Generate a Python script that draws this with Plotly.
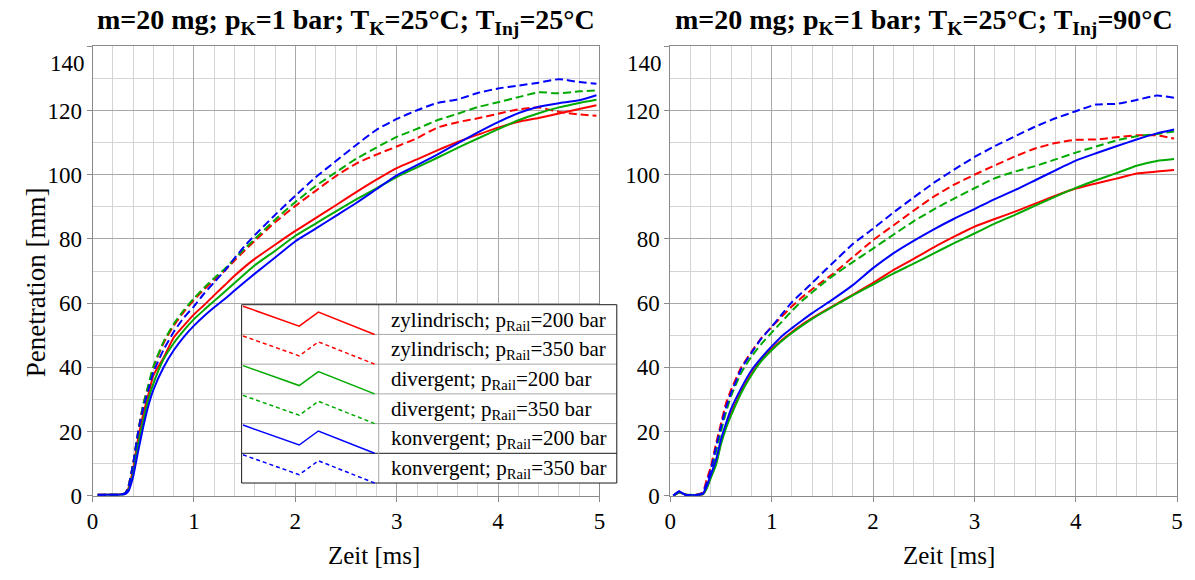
import plotly.graph_objects as go

W, H = 1195, 580

# ---------------- data: spray penetration [mm] over time [ms] ----------------
T_LEFT = [0.05, 0.15, 0.25, 0.32, 0.35, 0.40, 0.45, 0.50, 0.55, 0.60,
          0.70, 0.80, 0.90, 1.00, 1.10, 1.20, 1.30, 1.40, 1.50, 1.60,
          1.80, 2.00, 2.20, 2.40, 2.60, 2.80, 3.00, 3.20, 3.40, 3.60,
          3.80, 4.00, 4.20, 4.40, 4.60, 4.80, 4.97]

ZYL_200_L = [0.3, 0.3, 0.3, 0.6, 2.0, 8.5, 18, 25.5, 31.5, 37.5,
             43, 49.3, 53, 56.5, 59.4, 62.5, 65.5, 68.5, 71.3, 73.8,
             78.2, 82.5, 86.5, 90.5, 94.6, 98.5, 102.1, 104.8, 107.6, 110.2,
             112.5, 114.7, 116.5, 117.7, 119.1, 120.5, 121.7]
ZYL_350_L = [0.3, 0.3, 0.3, 0.7, 2.5, 10, 20, 28.5, 34, 40,
             47.5, 53, 57.3, 61, 64.3, 67.2, 70, 73.3, 76.4, 79.4,
             85.2, 90.3, 95.0, 99.6, 103.5, 106.3, 108.8, 111.4, 114.7, 116.4,
             117.6, 119.0, 120.4, 121.0, 119.6, 118.8, 118.4]
DIV_200_L = [0.2, 0.3, 0.3, 0.5, 1.5, 7, 16, 23.5, 30, 35,
             42.5, 47.5, 51.5, 55, 57.9, 60.7, 63.5, 66.3, 69.1, 71.8,
             76.3, 81.0, 84.8, 88.6, 92.3, 95.8, 99.3, 102.3, 105.3, 108.4,
             111.3, 114.2, 117.0, 119.2, 121.0, 122.4, 123.4]
DIV_350_L = [0.3, 0.3, 0.3, 0.7, 2.5, 10, 20, 28.5, 34.5, 40.3,
             48, 53.5, 57.8, 61.5, 64.8, 67.8, 70.6, 73.8, 77.0, 80.0,
             86.0, 91.5, 96.5, 100.8, 105.0, 108.5, 111.8, 114.3, 117.0, 119.0,
             121.1, 122.6, 124.2, 125.7, 125.4, 126.0, 126.3]
KON_200_L = [0.2, 0.3, 0.3, 0.5, 1.2, 6, 14, 21.5, 28, 33,
             40, 45.3, 49.5, 53, 56, 58.7, 61.2, 63.9, 66.6, 69.2,
             74.2, 79.3, 83.2, 87.2, 91.2, 95.5, 99.8, 103.0, 106.3, 109.8,
             113.2, 116.4, 119.2, 121.2, 122.3, 123.2, 124.8]
KON_350_L = [0.3, 0.3, 0.3, 0.7, 2.3, 10, 20, 27.5, 33, 38.5,
             45.5, 51, 55.5, 59, 63, 66.5, 70, 74, 77.8, 81.2,
             87.5, 93.5, 99.2, 104.3, 109.3, 114.0, 117.4, 120.1, 122.4, 123.5,
             125.5, 126.9, 127.8, 128.7, 129.8, 128.9, 128.4]

T_RIGHT = [0.03, 0.09, 0.15, 0.25, 0.32, 0.36, 0.40, 0.45, 0.50, 0.55,
           0.60, 0.70, 0.80, 0.90, 1.00, 1.10, 1.20, 1.30, 1.40, 1.50,
           1.60, 1.80, 2.00, 2.20, 2.40, 2.60, 2.80, 3.00, 3.20, 3.40,
           3.60, 3.80, 4.00, 4.20, 4.40, 4.60, 4.80, 4.97]

ZYL_200_R = [0, 1.0, 0.3, 0.2, 0.4, 2.5, 6, 10, 16.5, 21.5,
             25.5, 32.5, 38, 42.5, 45.7, 48.5, 51, 53.3, 55.3, 57.2,
             59.0, 62.6, 66.3, 70.3, 73.8, 77.4, 80.7, 83.8, 86.2, 88.5,
             91.0, 93.5, 95.7, 97.3, 98.8, 100.4, 101.0, 101.5]
ZYL_350_R = [0, 1.2, 0.3, 0.3, 1, 5, 9, 16, 22.5, 28.8,
             33, 40, 44.8, 49.2, 52.6, 55.8, 59.0, 61.8, 64.3, 66.7,
             69.0, 74.3, 79.6, 84.2, 88.8, 93.2, 96.9, 100.0, 102.9, 105.7,
             108.2, 109.9, 110.9, 111.0, 111.7, 112.3, 112.3, 111.3]
DIV_200_R = [0, 1.0, 0.3, 0.2, 0.4, 2.2, 5.5, 9.5, 16, 21,
             25, 32, 37.5, 42, 45.3, 48.2, 50.7, 53, 55.1, 57,
             58.8, 62.4, 65.8, 69.2, 72.3, 75.5, 78.7, 81.7, 84.8, 87.5,
             90.4, 93.2, 95.9, 98.3, 100.5, 102.8, 104.3, 104.9]
DIV_350_R = [0, 1.1, 0.3, 0.3, 0.6, 3.5, 7, 13.5, 20, 26,
             31, 38.3, 43.3, 47.3, 50.8, 54.2, 57.6, 60.7, 63.4, 66.0,
             68.4, 72.8, 77.0, 81.3, 85.5, 89.2, 92.6, 95.8, 98.9, 101.0,
             102.7, 104.8, 106.9, 108.8, 110.7, 112.0, 112.7, 113.5]
KON_200_R = [0, 1.3, 0.2, 0.2, 0.5, 3, 6.5, 11, 17.5, 22.5,
             27, 33.5, 39, 43, 46.5, 49.7, 52.2, 54.6, 56.9, 59.0,
             61.1, 65.6, 70.9, 75.5, 79.4, 83.0, 86.3, 89.3, 92.4, 95.2,
             98.3, 101.4, 104.4, 106.7, 108.9, 111.0, 112.9, 114.1]
KON_350_R = [0, 1.4, 0.3, 0.2, 0.8, 4, 8, 15, 21.5, 27.5,
             32, 39.5, 44.5, 49, 52.6, 56.5, 60.3, 63.3, 66.3, 69.4,
             72.4, 78.4, 83.2, 88.2, 92.9, 97.5, 101.6, 105.5, 108.9, 112.0,
             115.0, 117.6, 119.8, 121.9, 122.1, 123.3, 124.7, 124.0]

LEGEND_TEXT = ["zylindrisch; p<sub>Rail</sub>=200 bar",
               "zylindrisch; p<sub>Rail</sub>=350 bar",
               "divergent; p<sub>Rail</sub>=200 bar",
               "divergent; p<sub>Rail</sub>=350 bar",
               "konvergent; p<sub>Rail</sub>=200 bar",
               "konvergent; p<sub>Rail</sub>=350 bar"]
TITLES = ["m=20 mg; p<sub>K</sub>=1 bar; T<sub>K</sub>=25°C; T<sub>Inj</sub>=25°C",
          "m=20 mg; p<sub>K</sub>=1 bar; T<sub>K</sub>=25°C; T<sub>Inj</sub>=90°C"]
X_TICKS = [0, 1, 2, 3, 4, 5]
Y_TICKS = [0, 20, 40, 60, 80, 100, 120, 140]

RED, GREEN, BLUE = "#ff0000", "#00aa00", "#0000ff"
STYLES = [(RED, "solid"), (RED, "dash"), (GREEN, "solid"),
          (GREEN, "dash"), (BLUE, "solid"), (BLUE, "dash")]
LEFT_SERIES = [ZYL_200_L, ZYL_350_L, DIV_200_L, DIV_350_L, KON_200_L, KON_350_L]
RIGHT_SERIES = [ZYL_200_R, ZYL_350_R, DIV_200_R, DIV_350_R, KON_200_R, KON_350_R]

FONT = "Liberation Serif"
TICK_SIZE = 23


def px(x):
    return x / W


def py(y):
    return 1 - y / H


fig = go.Figure()

for xs, series, xa, ya in [(T_LEFT, LEFT_SERIES, "x", "y"),
                           (T_RIGHT, RIGHT_SERIES, "x2", "y2")]:
    for vals, (color, style) in zip(series, STYLES):
        fig.add_trace(go.Scatter(
            x=xs, y=vals, mode="lines", xaxis=xa, yaxis=ya,
            line=dict(color=color, width=2, shape="spline", smoothing=0.5,
                      dash="8px,4px" if style == "dash" else "solid"),
            showlegend=False, hoverinfo="skip"))

axis_common = dict(
    showgrid=True, gridcolor="#a8a8a8", gridwidth=1,
    showline=True, linecolor="#8a8a8a", linewidth=1, mirror=True,
    ticks="outside", ticklen=5, tickcolor="#8a8a8a",
    tickfont=dict(family=FONT, size=TICK_SIZE, color="black"),
    zeroline=False,
)

Y_BOTTOM, Y_TOP = 507, 47.5
LEFT_X = (87.5, 599.5)
RIGHT_X = (671, 1183)

for suffix, (x0, x1) in [("", LEFT_X), ("2", RIGHT_X)]:
    fig.update_layout(**{
        "xaxis" + suffix: dict(
            axis_common, domain=[px(x0), px(x1)], range=[0, 5],
            tickmode="array", tickvals=X_TICKS,
            minor=dict(tickmode="linear", tick0=0, dtick=0.2, showgrid=True,
                       gridcolor="#d4d4d4", gridwidth=1),
            anchor="y" + suffix),
        "yaxis" + suffix: dict(
            axis_common, domain=[py(Y_BOTTOM), py(Y_TOP)], range=[0, 140],
            tickmode="array", tickvals=Y_TICKS,
            ticktext=[str(v) for v in Y_TICKS[:-1]] + [""],
            minor=dict(tickmode="linear", tick0=0, dtick=10, showgrid=True,
                       gridcolor="#d4d4d4", gridwidth=1),
            anchor="x" + suffix),
    })

annotations = []

# top tick label sits slightly below the frame edge
for suffix, (x0, _) in [("", LEFT_X), ("2", RIGHT_X)]:
    annotations.append(dict(
        text=str(Y_TICKS[-1]), xref="paper", yref="y" + suffix,
        x=px(x0), y=Y_TICKS[-1], xanchor="right", yanchor="middle",
        xshift=-6, yshift=-17, showarrow=False,
        font=dict(family=FONT, size=TICK_SIZE, color="black")))

# panel titles
for title, (x0, x1) in zip(TITLES, [LEFT_X, RIGHT_X]):
    annotations.append(dict(
        text="<b>" + title + "</b>", xref="paper", yref="paper",
        x=px((x0 + x1) / 2), y=py(22), xanchor="center", yanchor="middle",
        showarrow=False, font=dict(family=FONT, size=28, color="black")))

# axis titles
annotations.append(dict(
    text="Penetration [mm]", xref="paper", yref="paper",
    x=px(30), y=py(289), textangle=-90, xanchor="center", yanchor="middle",
    showarrow=False, font=dict(family=FONT, size=27, color="black")))
for cx in (372, 953):
    annotations.append(dict(
        text="Zeit [ms]", xref="paper", yref="paper",
        x=px(cx), y=py(568), xanchor="center", yanchor="middle",
        showarrow=False, font=dict(family=FONT, size=25, color="black")))

# legend table drawn inside the left panel
LG_LEFT, LG_MID, LG_RIGHT = 238, 376.5, 617
LG_TOP, ROW_H = 311.7, 30.4
LG_BOTTOM = LG_TOP + 6 * ROW_H

shapes = [dict(type="rect", xref="paper", yref="paper", layer="above",
               x0=px(LG_LEFT), x1=px(LG_RIGHT), y0=py(LG_TOP), y1=py(LG_BOTTOM),
               fillcolor="white", line=dict(color="white", width=0))]
for i in range(1, 6):
    yy = LG_TOP + i * ROW_H
    shapes.append(dict(type="line", xref="paper", yref="paper", layer="above",
                       x0=px(LG_LEFT), x1=px(LG_RIGHT), y0=py(yy), y1=py(yy),
                       line=dict(color="#1a1a1a" if i == 5 else "#a8a8a8", width=1)))
shapes.append(dict(type="line", xref="paper", yref="paper", layer="above",
                   x0=px(LG_MID), x1=px(LG_MID), y0=py(LG_TOP), y1=py(LG_BOTTOM),
                   line=dict(color="#a8a8a8", width=1)))
shapes.append(dict(type="rect", xref="paper", yref="paper", layer="above",
                   x0=px(LG_LEFT), x1=px(LG_RIGHT), y0=py(LG_TOP), y1=py(LG_BOTTOM),
                   line=dict(color="#1a1a1a", width=1)))

ZIGZAG = [(0.01, 0.05), (0.42, 0.72), (0.56, 0.25), (0.97, 1.0)]
sample_w = LG_MID - LG_LEFT
for i, ((color, style), label) in enumerate(zip(STYLES, LEGEND_TEXT)):
    top = LG_TOP + i * ROW_H
    pts = [(px(LG_LEFT + fx * sample_w), py(top + fy * ROW_H)) for fx, fy in ZIGZAG]
    path = "M " + " L ".join(f"{a:.5f},{b:.5f}" for a, b in pts)
    shapes.append(dict(type="path", path=path, xref="paper", yref="paper",
                       layer="above",
                       line=dict(color=color, width=1.5,
                                 dash="4px,3px" if style == "dash" else "solid")))
    annotations.append(dict(
        text=label, xref="paper", yref="paper",
        x=px(387), y=py(top + ROW_H / 2 + 1), xanchor="left", yanchor="middle",
        showarrow=False, font=dict(family=FONT, size=21, color="black")))

fig.update_layout(
    width=W, height=H, margin=dict(l=0, r=0, t=0, b=0),
    paper_bgcolor="white", plot_bgcolor="white",
    showlegend=False, shapes=shapes, annotations=annotations,
    font=dict(family=FONT, color="black"),
)

# the figure fills the whole page, so drop the default body margin
fig.write_html(
    "out.html",
    post_script="document.body.style.margin='0';"
                "document.body.style.overflow='hidden';",
)
